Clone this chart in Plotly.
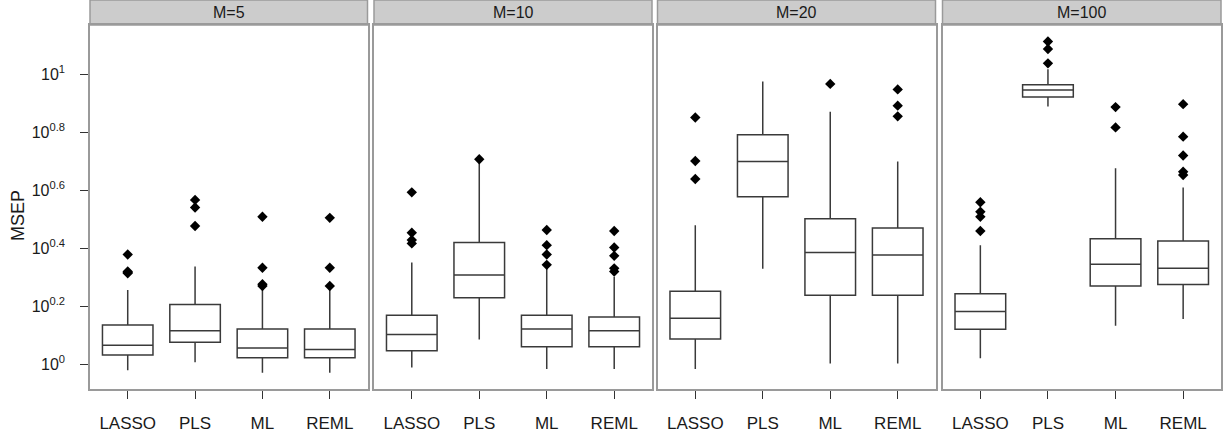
import plotly.graph_objects as go

methods = ["LASSO", "PLS", "ML", "REML"]
panels = ["M=5", "M=10", "M=20", "M=100"]

# Box statistics (MSEP values), one list per panel, ordered as methods
lower = [
    [0.955, 1.016, 0.935, 0.935],
    [0.975, 1.219, 0.964, 0.964],
    [0.964, 2.138, 1.007, 1.007],
    [1.050, 7.745, 1.358, 1.432],
]
q1 = [
    [1.076, 1.191, 1.054, 1.054],
    [1.114, 1.698, 1.151, 1.151],
    [1.222, 3.784, 1.730, 1.730],
    [1.321, 8.356, 1.862, 1.884],
]
median = [
    [1.164, 1.306, 1.138, 1.125],
    [1.268, 2.032, 1.324, 1.306],
    [1.442, 5.000, 2.432, 2.382],
    [1.521, 8.831, 2.213, 2.143],
]
q3 = [
    [1.368, 1.607, 1.324, 1.324],
    [1.476, 2.630, 1.476, 1.455],
    [1.786, 6.194, 3.177, 2.951],
    [1.750, 9.204, 2.710, 2.661],
]
upper = [
    [1.803, 2.173, 1.854, 1.828],
    [2.244, 5.012, 2.203, 2.004],
    [3.020, 9.441, 7.430, 5.000],
    [2.576, 10.40, 4.742, 4.074],
]
outliers = [
    [[2.061, 2.089, 2.075, 2.393], [2.999, 3.475, 3.690], [1.862, 1.888, 2.153, 3.228], [1.862, 2.153, 3.199]],
    [[2.612, 2.685, 2.844, 3.917], [5.093], [2.203, 2.393, 2.576, 2.904], [2.089, 2.143, 2.366, 2.529, 2.884]],
    [[4.355, 5.023, 7.096], [], [9.268], [7.161, 7.798, 8.872]],
    [[2.884, 3.228, 3.357, 3.622], [10.91, 12.22, 12.97], [6.561, 7.709], [4.498, 4.613, 5.248, 6.095, 7.889]],
]

tick_vals = [1.0, 1.585, 2.512, 3.981, 6.310, 10.0]
tick_text = ["10<sup>0</sup>", "10<sup>0.2</sup>", "10<sup>0.4</sup>",
             "10<sup>0.6</sup>", "10<sup>0.8</sup>", "10<sup>1</sup>"]

W, H = 1232, 439
ml, mr, mt, mb = 90, 11, 25, 50
pw = W - ml - mr
ph = H - mt - mb
panel_px = [(90, 367.5), (374, 652), (657.5, 935.5), (942.5, 1221)]

text_col = "#1a1a1a"
line_col = "#3a3a3a"
border_col = "#9a9a9a"

fig = go.Figure()
for i in range(4):
    ax = "" if i == 0 else str(i + 1)
    fig.add_trace(go.Box(
        x=methods, q1=q1[i], median=median[i], q3=q3[i],
        lowerfence=lower[i], upperfence=upper[i],
        boxpoints=False, whiskerwidth=0, width=0.75,
        fillcolor="white", line=dict(color=line_col, width=1.5),
        xaxis="x" + ax, yaxis="y" + ax, showlegend=False,
    ))
    ox, oy = [], []
    for m, pts in zip(methods, outliers[i]):
        ox += [m] * len(pts)
        oy += pts
    fig.add_trace(go.Scatter(
        x=ox, y=oy, mode="markers",
        marker=dict(symbol="diamond", size=8, color="black"),
        xaxis="x" + ax, yaxis="y" + ax, showlegend=False,
    ))

layout = dict(
    template="none",
    width=W, height=H,
    margin=dict(l=ml, r=mr, t=mt, b=mb, autoexpand=False),
    paper_bgcolor="white", plot_bgcolor="white",
    font=dict(family="Liberation Sans, Arial", color=text_col),
)
shapes = []
annotations = []
strip_h = 25 / ph
for i in range(4):
    ax = "" if i == 0 else str(i + 1)
    x0 = (panel_px[i][0] - ml) / pw
    x1 = (panel_px[i][1] - ml) / pw
    layout["xaxis" + ax] = dict(
        domain=[x0, x1], anchor="y" + ax, type="category",
        categoryorder="array", categoryarray=methods,
        range=[-0.56, 3.56], automargin=False,
        showgrid=False, zeroline=False,
        showline=True, mirror=True, linecolor=border_col, linewidth=1.5,
        ticks="outside", ticklen=8, tickcolor="#333333", tickwidth=1.2,
        tickfont=dict(size=17, color=text_col), ticklabelstandoff=10,
    )
    layout["yaxis" + ax] = dict(
        domain=[0, 1], anchor="x" + ax, type="log",
        range=[-0.085, 1.170], automargin=False,
        showgrid=False, zeroline=False,
        showline=True, mirror=True, linecolor=border_col, linewidth=1.5,
        tickvals=tick_vals, ticktext=tick_text,
        ticks="outside" if i == 0 else "", ticklen=8, tickcolor="#333333", tickwidth=1.2,
        showticklabels=(i == 0),
        tickfont=dict(size=16, color=text_col), ticklabelstandoff=12,
    )
    shapes.append(dict(type="rect", xref="paper", yref="paper",
                       x0=x0, x1=x1, y0=1, y1=1 + strip_h,
                       fillcolor="#cccccc", line=dict(color=border_col, width=1.5),
                       layer="below"))
    annotations.append(dict(text=panels[i], xref="paper", yref="paper",
                            x=(x0 + x1) / 2, y=1 + strip_h / 2,
                            xanchor="center", yanchor="middle", showarrow=False,
                            font=dict(size=16, color=text_col)))

annotations.append(dict(text="MSEP", xref="paper", yref="paper",
                        x=(18 - ml) / pw, y=(389 - 216) / ph,
                        xanchor="center", yanchor="middle", textangle=-90,
                        showarrow=False, font=dict(size=18, color=text_col)))
layout["shapes"] = shapes
layout["annotations"] = annotations
fig.update_layout(**layout)
fig.write_html("out.html", config={"displayModeBar": False},
               post_script="document.body.style.margin='0';document.body.style.overflow='hidden';")
